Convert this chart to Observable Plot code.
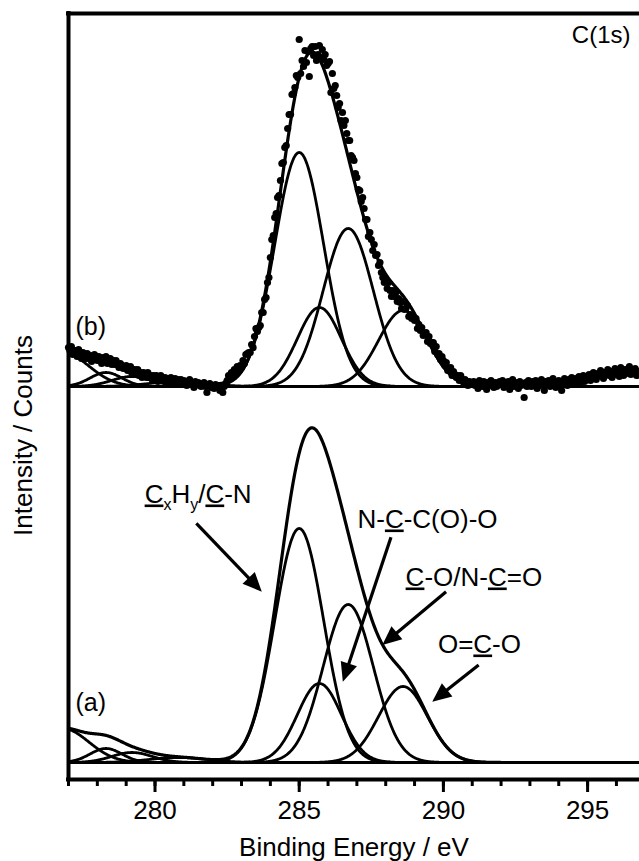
<!DOCTYPE html>
<html lang="en">
<head>
<meta charset="utf-8">
<title>C(1s) XPS spectra</title>
<script src="https://cdn.jsdelivr.net/npm/d3@7"></script>
<script src="https://cdn.jsdelivr.net/npm/@observablehq/plot@0.6"></script>
<style>
  html, body { margin: 0; padding: 0; background: #fff; }
  #chart { width: 639px; height: 861px; overflow: hidden; }
</style>
</head>
<body>
<div id="chart"></div>
<script>
// Fitted C(1s) components: centre (eV), height (counts), FWHM (eV).
// [..] marks an underlined carbon, {..} a subscript.
const peakNames   = ["[C]{x}H{y}/[C]-N", "N-[C]-C(O)-O", "[C]-O/N-[C]=O", "O=[C]-O"];
const peakCenters = [285.0, 285.7, 286.7, 288.6];
const peakHeights = [234, 79, 158, 76];
const peakFwhm    = [2.0, 1.8, 2.05, 2.0];

// Weak components on the low binding-energy side
const lowCenters = [276.8, 278.3, 279.2, 280.8];
const lowHeights = [34, 14, 10, 5];
const lowFwhm    = [2.12, 1.3, 1.65, 2.35];

// Spectrum (b): measured counts above its baseline, 277.00 to 296.80 eV in 0.05 eV steps
const scanStart = 277.0;
const scanStep = 0.05;
const countsB = [
  39,36,40,32,36,36,30,37,32,28,34,30,28,33,28,31,25,30,32,27,
  26,30,27,23,29,25,30,23,26,28,22,26,22,26,22,19,23,21,18,20,
  21,16,18,20,13,16,17,13,17,11,14,9,14,12,9,14,9,11,7,11,
  8,11,5,9,11,6,7,9,4,8,6,9,4,6,8,3,7,5,7,3,
  6,3,1,5,7,2,4,-1,5,2,4,1,0,2,4,0,-6,1,3,-1,
  0,-2,2,-1,1,-4,0,-6,0,3,6,11,8,14,11,17,14,20,16,21,
  19,26,23,32,33,34,34,42,39,50,58,55,59,61,74,74,87,89,104,109,
  129,147,151,169,173,189,191,206,223,224,239,241,258,272,272,292,293,299,311,309,
  347,313,326,320,336,324,335,310,338,340,331,340,326,332,341,329,337,327,332,321,
  323,325,294,313,298,301,291,279,283,266,274,261,266,253,246,246,231,229,226,213,
  209,197,196,185,189,178,167,167,150,154,147,136,142,131,132,121,124,114,109,104,
  106,98,104,96,90,96,90,94,85,88,84,78,85,77,78,81,70,72,68,70,
  66,68,58,62,56,59,51,52,54,45,50,43,44,44,35,40,32,33,27,30,
  26,21,24,16,18,19,11,15,12,9,11,6,11,7,4,7,5,1,5,2,
  3,5,1,4,-2,6,2,0,5,3,-3,4,1,6,2,-1,4,0,3,5,
  2,6,-1,4,1,5,-3,3,7,0,4,2,-2,5,1,3,-11,4,0,6,
  3,0,5,2,6,-2,4,1,7,3,-4,5,2,6,0,4,8,3,-1,5,
  6,2,-4,5,8,3,1,7,4,9,5,2,8,6,10,3,7,11,5,9,
  8,12,6,10,14,9,7,13,11,16,10,8,14,12,17,11,15,9,13,18,
  12,16,10,19,14,11,17,13,15,20,12,16,14,18,11,15,13
];

const spectra = ["(a)", "(b)"];
const majorTicks = [280, 285, 290, 295];
const minorTicks = d3.range(277, 297);

// Layout constants: energy window, stacking offsets, callouts
const xDomain = [277, 296.8];
const yTop = 766;
const stackOffset = [17, 393];
const callouts = [
  {label: peakNames[0], tx: 279.64, ty: 277, x1: 281.45, y1: 255.7, x2: 283.72, y2: 187.3},
  {label: peakNames[1], tx: 287.02, ty: 252, x1: 288.20, y1: 241.7, x2: 286.53, y2: 97.3},
  {label: peakNames[2], tx: 288.69, ty: 194, x1: 290.11, y1: 187.3, x2: 287.90, y2: 134.0},
  {label: peakNames[3], tx: 289.81, ty: 127, x1: 291.24, y1: 114.0, x2: 289.63, y2: 77.3}
];

const gauss = (x, c, h, w) => h * Math.exp(-4 * Math.LN2 * (x - c) ** 2 / (w * w));
const components = [
  ...peakCenters.map((c, i) => ({c, h: peakHeights[i], w: peakFwhm[i]})),
  ...lowCenters.map((c, i) => ({c, h: lowHeights[i], w: lowFwhm[i]}))
];

// Fitted curves (components + envelope) for both stacked spectra
const grid = d3.range(xDomain[0], xDomain[1] + 1e-9, 0.02);
const fitRows = [];
const sumRows = [];
spectra.forEach((s, si) => {
  const base = stackOffset[si];
  components.forEach((p, k) => {
    for (const e of grid) fitRows.push({series: `${s}-${k}`, energy: e, value: base + gauss(e, p.c, p.h, p.w)});
  });
  for (const e of grid) {
    sumRows.push({series: `${s}-sum`, energy: e, value: base + d3.sum(components, p => gauss(e, p.c, p.h, p.w))});
  }
});

const points = countsB.map((v, i) => ({energy: scanStart + i * scanStep, value: stackOffset[1] + v}));

// Filled-head arrows drawn through the plot's own scales
function calloutArrows(data) {
  return (index, scales) => {
    const {x, y} = scales;
    const g = d3.create("svg:g");
    for (const d of data) {
      const ax = x(d.x1), ay = y(d.y1), bx = x(d.x2), by = y(d.y2);
      const len = Math.hypot(bx - ax, by - ay);
      const ux = (bx - ax) / len, uy = (by - ay) / len;
      const hl = 19, hw = 8.5;
      const cx = bx - ux * hl, cy = by - uy * hl;
      g.append("line")
        .attr("x1", ax).attr("y1", ay).attr("x2", cx + ux * 3).attr("y2", cy + uy * 3)
        .attr("stroke", "black").attr("stroke-width", 3.2);
      g.append("path")
        .attr("fill", "black")
        .attr("d", `M${bx},${by}L${cx - uy * hw},${cy + ux * hw}L${cx + uy * hw},${cy - ux * hw}Z`);
    }
    return g.node();
  };
}

const font = "'Liberation Sans', Arial, Helvetica, sans-serif";

const plot = Plot.plot({
  width: 639,
  height: 861,
  marginLeft: 68,
  marginRight: 0,
  marginTop: 13,
  marginBottom: 82,
  x: {domain: xDomain},
  y: {domain: [0, yTop], axis: null},
  style: {fontFamily: font, background: "#fff", color: "#000"},
  marks: [
    Plot.ruleY(stackOffset, {stroke: "black", strokeWidth: 2.8}),
    Plot.line(fitRows, {x: "energy", y: "value", z: "series", stroke: "black", strokeWidth: 2.8}),
    Plot.line(sumRows, {x: "energy", y: "value", z: "series", stroke: "black", strokeWidth: 3.2}),
    Plot.dot(points, {x: "energy", y: "value", r: 3.6, fill: "black"}),
    Plot.ruleY([yTop], {stroke: "black", strokeWidth: 4, strokeLinecap: "square"}),
    Plot.ruleY([0], {stroke: "black", strokeWidth: 4, strokeLinecap: "square"}),
    Plot.ruleX([xDomain[0]], {stroke: "black", strokeWidth: 4, strokeLinecap: "square"}),
    Plot.axisX({ticks: minorTicks, tickSize: 7, strokeWidth: 3, tickFormat: () => "", label: null}),
    Plot.axisX({ticks: majorTicks, tickSize: 13, tickPadding: 8, strokeWidth: 3, fontSize: 26, label: null}),
    Plot.text(["Binding Energy / eV"], {frameAnchor: "bottom", dy: 76, lineAnchor: "bottom", fontSize: 26}),
    Plot.text(["Intensity / Counts"], {x: xDomain[0], y: 344, dx: -45, rotate: -90, textAnchor: "middle", lineAnchor: "middle", fontSize: 26}),
    Plot.text(spectra, {x: xDomain[0], y: (d, i) => stackOffset[i] + 52, dx: 7, textAnchor: "start", lineAnchor: "bottom", fontSize: 25}),
    Plot.text(["C(1s)"], {frameAnchor: "top-right", dx: -9, dy: 29, textAnchor: "end", lineAnchor: "bottom", fontSize: 24}),
    Plot.text(callouts, {x: "tx", y: "ty", text: "label", textAnchor: "start", lineAnchor: "bottom", fontSize: 26}),
    calloutArrows(callouts)
  ]
});

// Underlined carbons and subscripts in the callout labels
d3.select(plot).selectAll("text").each(function () {
  const raw = this.textContent;
  if (!/[\[{]/.test(raw)) return;
  const sel = d3.select(this);
  sel.text(null);
  const re = /\[([^\]]+)\]|\{([^}]+)\}|([^\[{]+)/g;
  let m, lowered = false;
  while ((m = re.exec(raw))) {
    const t = sel.append("tspan");
    if (m[2] !== undefined) {
      t.text(m[2]).attr("font-size", 16);
      if (!lowered) t.attr("dy", 7);
      lowered = true;
    } else {
      t.text(m[1] !== undefined ? m[1] : m[3]);
      if (lowered) { t.attr("dy", -7); lowered = false; }
      if (m[1] !== undefined) t.style("text-decoration", "underline");
    }
  }
});

document.getElementById("chart").append(plot);
</script>
</body>
</html>
